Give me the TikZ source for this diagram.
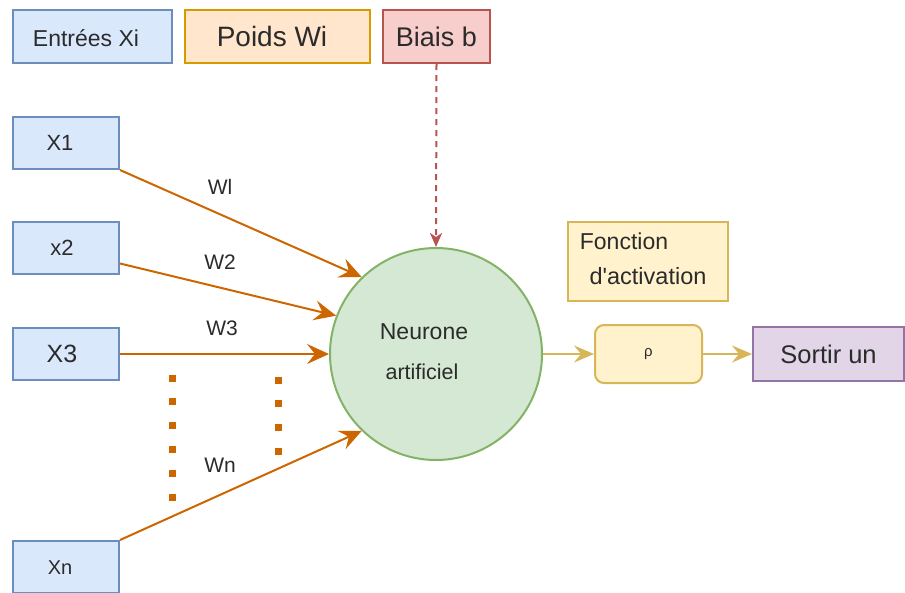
\documentclass[tikz,border=0pt]{standalone}
\usepackage{fontspec}
\setmainfont{Liberation Sans}
\usetikzlibrary{arrows.meta}

\definecolor{blueFill}{HTML}{DAE8FC}\definecolor{blueLine}{HTML}{6C8EBF}
\definecolor{orFill}{HTML}{FFE6CC}\definecolor{orLine}{HTML}{D79B00}
\definecolor{redFill}{HTML}{F8CECC}\definecolor{redLine}{HTML}{B85450}
\definecolor{grFill}{HTML}{D5E8D4}\definecolor{grLine}{HTML}{82B366}
\definecolor{yeFill}{HTML}{FFF2CC}\definecolor{yeLine}{HTML}{D6B656}
\definecolor{puFill}{HTML}{E1D5E7}\definecolor{puLine}{HTML}{9673A6}
\definecolor{wire}{HTML}{CC6600}
\definecolor{ink}{HTML}{2B2B2B}

\begin{document}
\begin{tikzpicture}[x=1pt,y=-1pt,
  box/.style={draw, line width=2pt, inner sep=0pt, text=ink, font=\fontsize{23}{26}\selectfont},
  inbox/.style={box, draw=blueLine, fill=blueFill, minimum width=106pt, minimum height=52pt},
  txt/.style={inner sep=0pt, text=ink, font=\fontsize{22}{26}\selectfont},
  wlab/.style={inner sep=0pt, text=ink, font=\fontsize{21}{24}\selectfont},
  feed/.style={draw=wire, line width=2pt, -{Stealth[length=22pt,width=20pt,inset=8pt]}},
  flow/.style={draw=yeLine, line width=2pt, -{Stealth[length=20pt,width=17pt,inset=7pt]}},
  dotcol/.style={draw=wire, line width=7pt, dash pattern=on 7pt off 16.8pt}
]
\useasboundingbox (0,0) rectangle (905,592);

% legend
\node[box, draw=blueLine, fill=blueFill, minimum width=159pt, minimum height=53pt] (legIn) at (92.5,36.5) {};
\node[txt, font=\fontsize{23}{26}\selectfont] (legInT) at (86,38) {Entrées Xi};
\node[box, draw=orLine, fill=orFill, minimum width=185pt, minimum height=53pt] (legW) at (277.5,36.5) {};
\node[txt, font=\fontsize{28}{30}\selectfont] (legWT) at (272,36) {Poids Wi};
\node[box, draw=redLine, fill=redFill, minimum width=107pt, minimum height=53pt, font=\fontsize{27}{30}\selectfont] (bias) at (436.5,36.5) {Biais b};

% inputs
\node[inbox] (x1) at (66,143) {};
\node[txt, font=\fontsize{22}{26}\selectfont] (x1T) at (60,143) {X1};
\node[inbox] (x2) at (66,248) {};
\node[txt, font=\fontsize{22}{26}\selectfont] (x2T) at (62,248) {x2};
\node[inbox] (x3) at (66,354) {};
\node[txt, font=\fontsize{25}{28}\selectfont] (x3T) at (62,354) {X3};
\node[inbox] (xn) at (66,567) {};
\node[txt, font=\fontsize{20}{24}\selectfont] (xnT) at (60,568) {Xn};

% neuron
\node[draw=grLine, fill=grFill, line width=2pt, circle, minimum size=212pt, inner sep=0pt] (neuron) at (436,354) {};
\node[txt, font=\fontsize{23}{26}\selectfont] (neuT1) at (424,332) {Neurone};
\node[txt, font=\fontsize{21.5}{26}\selectfont] (neuT2) at (422,372) {artificiel};

% activation
\node[box, draw=yeLine, fill=yeFill, minimum width=160pt, minimum height=79pt] (actLeg) at (648,261.5) {};
\node[txt, font=\fontsize{23}{26}\selectfont] (actT1) at (624,241) {Fonction};
\node[txt, font=\fontsize{23.5}{26}\selectfont] (actT2) at (648,276) {d\textquotesingle activation};
\node[box, draw=yeLine, fill=yeFill, rounded corners=9pt, minimum width=107pt, minimum height=58pt, font=\fontsize{15}{18}\selectfont] (rho) at (648.5,354) {ρ};
\node[box, draw=puLine, fill=puFill, minimum width=151pt, minimum height=54pt, font=\fontsize{25.5}{28}\selectfont] (out) at (828.5,354) {Sortir un};

% weights
\path[feed] (x1.south east) -- (neuron.134);
\path[feed] (x2.-16) -- (neuron.159);
\path[feed] (x3) -- (neuron);
\path[feed] (xn.north east) -- (neuron.226);
\node[wlab] (w1) at (220,187) {Wl};
\node[wlab] (w2) at (220,262) {W2};
\node[wlab] (w3) at (222,328) {W3};
\node[wlab] (wn) at (220,465) {Wn};

% omitted inputs
\coordinate (d1a) at (172,374.5);
\coordinate (d1b) at (172,501);
\coordinate (d2a) at (278,376.5);
\coordinate (d2b) at (278,456);
\path[dotcol] (d1a) -- (d1b);
\path[dotcol] (d2a) -- (d2b);

% bias and output
\draw[redLine, line width=2pt, dash pattern=on 6pt off 5pt, -{Stealth[length=14pt,width=12pt,inset=4pt]}] (bias.south) -- (neuron.north);
\path[flow] (neuron.east) -- (rho.west);
\path[flow] (rho.east) -- (out.west);
\end{tikzpicture}
\end{document}
